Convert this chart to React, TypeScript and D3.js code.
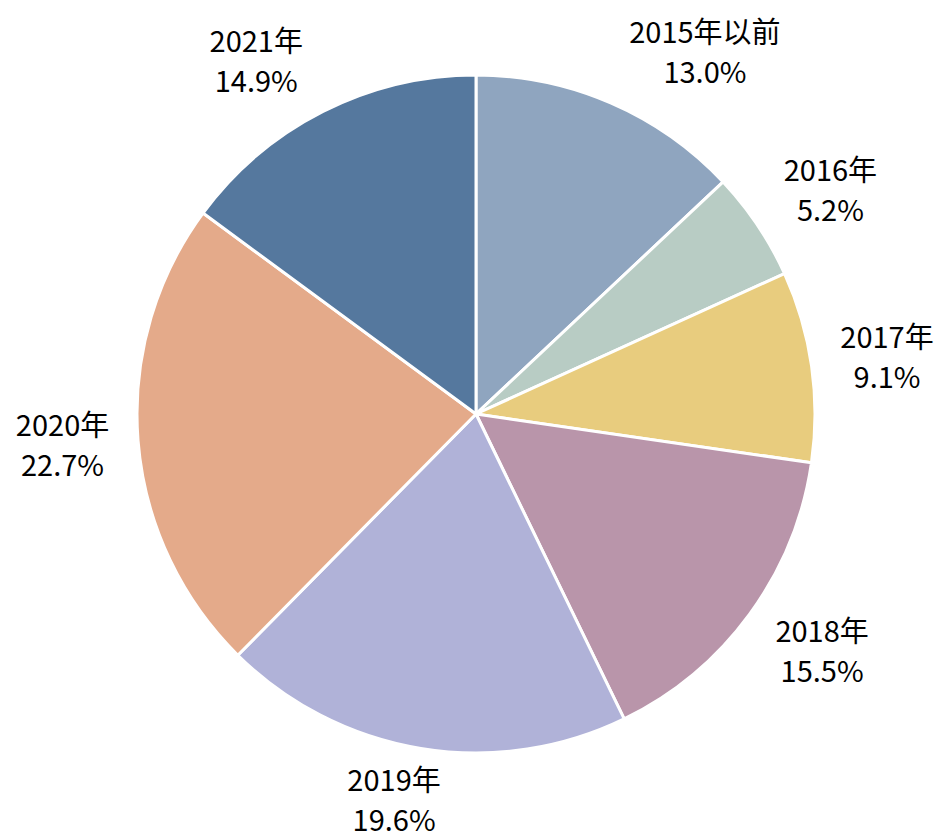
import React from "react";
import * as d3 from "d3";

const categories = ["2015年以前", "2016年", "2017年", "2018年", "2019年", "2020年", "2021年"];
const values = [13.0, 5.2, 9.1, 15.5, 19.6, 22.7, 14.9];
const colors = ["#8FA5BF", "#B8CCC4", "#E8CC7E", "#B995AA", "#B0B2D8", "#E4AA8A", "#55789E"];

const W = 938;
const H = 838;
const CX = 476;
const CY = 414;
const R = 339;
const FS = 29;
const FONT = "'Noto Sans CJK SC', 'Noto Sans', sans-serif";

function textWidth(s: string) {
  let w = 0;
  for (const ch of s) {
    if (/[\u3000-\u9fff]/.test(ch)) w += FS;
    else if (ch === ".") w += FS * 0.27;
    else if (ch === "%") w += FS * 0.85;
    else w += FS * 0.57;
  }
  return w;
}

export default function App() {
  const pie = d3.pie<number>().sort(null).value((d) => d);
  const arcs = pie(values);
  const arc = d3.arc<d3.PieArcDatum<number>>().innerRadius(0).outerRadius(R);
  const lineGap = 40;
  const anchorR = 355;
  const kx = 2.5;
  const ky = 1.3;
  const padX = 12;

  return (
    <svg width={W} height={H} style={{ position: "absolute", left: 0, top: 0, background: "#fff" }}>
      <g transform={`translate(${CX},${CY})`}>
        {arcs.map((a, i) => (
          <path key={i} d={arc(a) || ""} fill={colors[i]} stroke="#fff" strokeWidth={3} strokeLinejoin="round" />
        ))}
        {arcs.map((a, i) => {
          const mid = (a.startAngle + a.endAngle) / 2;
          const ux = Math.sin(mid);
          const uy = -Math.cos(mid);
          const ax = anchorR * ux;
          const ay = anchorR * uy;
          const l1 = categories[i];
          const l2 = values[i].toFixed(1) + "%";
          const w = Math.max(textWidth(l1), textWidth(l2));
          const h = 72;
          const clamp = (v: number) => Math.max(-1, Math.min(1, v));
          const cx = ax + (w / 2 + padX) * clamp(ux * kx);
          const cy = ay + (h / 2) * clamp(uy * ky);
          return (
            <text key={"t" + i} textAnchor="middle" fontFamily={FONT} fontSize={FS} fill="#000">
              <tspan x={cx} y={cy - lineGap / 2 + FS * 0.36}>{l1}</tspan>
              <tspan x={cx} y={cy + lineGap / 2 + FS * 0.36}>{l2}</tspan>
            </text>
          );
        })}
      </g>
    </svg>
  );
}
